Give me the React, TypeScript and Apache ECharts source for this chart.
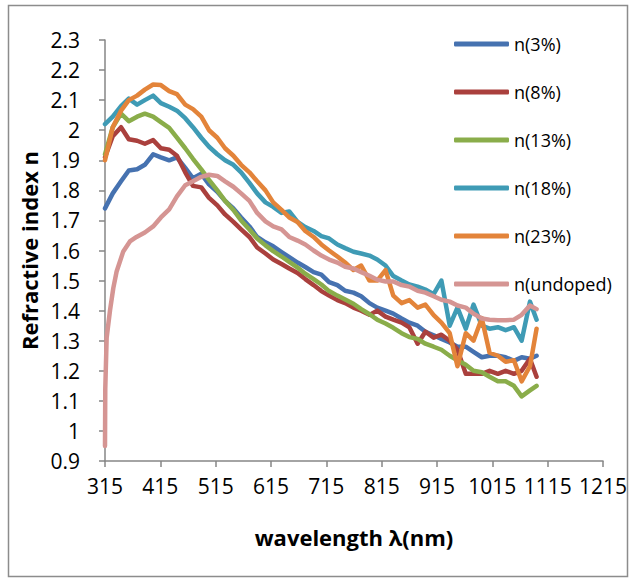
import React, { useEffect, useRef } from "react";
import * as echarts from "echarts";

// wavelength grid (nm) shared by the doped samples
const wavelengths = [315, 329, 344, 358, 373, 387, 402, 416, 431, 445, 460, 474, 489, 503, 518, 532, 547, 561, 576, 590, 605, 619, 634, 648, 663, 677, 692, 706, 720, 735, 749, 764, 778, 793, 807, 822, 836, 851, 865, 880, 894, 909, 923, 938, 952, 967, 981, 996, 1010, 1025, 1039, 1054, 1068, 1083, 1095];

const n3 = [1.74, 1.79, 1.83, 1.866, 1.87, 1.885, 1.92, 1.91, 1.9, 1.91, 1.875, 1.84, 1.855, 1.82, 1.795, 1.765, 1.74, 1.71, 1.68, 1.645, 1.627, 1.614, 1.595, 1.578, 1.56, 1.545, 1.528, 1.52, 1.495, 1.485, 1.466, 1.46, 1.448, 1.425, 1.41, 1.4, 1.39, 1.374, 1.36, 1.35, 1.33, 1.318, 1.306, 1.294, 1.28, 1.28, 1.263, 1.245, 1.25, 1.25, 1.245, 1.233, 1.245, 1.24, 1.25];

const n8 = [1.91, 1.98, 2.01, 1.97, 1.965, 1.955, 1.967, 1.94, 1.935, 1.915, 1.86, 1.815, 1.81, 1.775, 1.75, 1.72, 1.695, 1.67, 1.645, 1.61, 1.59, 1.57, 1.555, 1.54, 1.525, 1.505, 1.485, 1.465, 1.45, 1.435, 1.425, 1.41, 1.4, 1.386, 1.4, 1.38, 1.37, 1.36, 1.345, 1.29, 1.33, 1.31, 1.32, 1.3, 1.27, 1.19, 1.19, 1.19, 1.2, 1.19, 1.2, 1.19, 1.2, 1.24, 1.18];

const n13 = [1.92, 2.01, 2.055, 2.03, 2.045, 2.055, 2.045, 2.027, 2.008, 1.975, 1.94, 1.905, 1.87, 1.835, 1.8, 1.765, 1.735, 1.7, 1.67, 1.64, 1.617, 1.598, 1.58, 1.562, 1.543, 1.523, 1.505, 1.487, 1.465, 1.45, 1.437, 1.423, 1.405, 1.388, 1.37, 1.357, 1.343, 1.325, 1.312, 1.306, 1.29, 1.28, 1.27, 1.25, 1.235, 1.22, 1.2, 1.195, 1.18, 1.165, 1.165, 1.15, 1.115, 1.135, 1.15];

const n18 = [2.02, 2.045, 2.08, 2.105, 2.085, 2.1, 2.115, 2.09, 2.078, 2.065, 2.04, 2.01, 1.975, 1.945, 1.92, 1.9, 1.885, 1.86, 1.825, 1.79, 1.76, 1.745, 1.725, 1.73, 1.695, 1.678, 1.665, 1.648, 1.64, 1.62, 1.608, 1.596, 1.59, 1.583, 1.57, 1.55, 1.515, 1.5, 1.487, 1.48, 1.47, 1.455, 1.5, 1.35, 1.41, 1.34, 1.42, 1.35, 1.34, 1.345, 1.335, 1.345, 1.3, 1.43, 1.37];

const n23 = [1.9, 2.01, 2.065, 2.1, 2.115, 2.135, 2.152, 2.15, 2.13, 2.12, 2.085, 2.07, 2.045, 2.0, 1.975, 1.94, 1.915, 1.885, 1.86, 1.83, 1.8, 1.76, 1.735, 1.71, 1.695, 1.665, 1.645, 1.62, 1.6, 1.58, 1.56, 1.535, 1.55, 1.5, 1.5, 1.535, 1.45, 1.425, 1.435, 1.41, 1.42, 1.385, 1.36, 1.325, 1.215, 1.325, 1.3, 1.375, 1.26, 1.25, 1.23, 1.235, 1.165, 1.215, 1.34];

// undoped sample has a denser start
const undopedWavelengths = [315, 315.5, 318, 324, 330, 336, 348, 360, 372, 387, 402, 416, 431, 445, 460, 474, 489, 503, 518, 532, 547, 561, 576, 590, 605, 619, 634, 648, 663, 677, 692, 706, 720, 735, 749, 764, 778, 793, 807, 822, 836, 851, 865, 880, 894, 909, 923, 938, 952, 967, 981, 996, 1010, 1025, 1039, 1054, 1068, 1083, 1095];
const nUndoped = [0.95, 1.14, 1.31, 1.4, 1.475, 1.53, 1.597, 1.63, 1.645, 1.66, 1.68, 1.71, 1.737, 1.78, 1.817, 1.83, 1.845, 1.852, 1.848, 1.83, 1.812, 1.79, 1.765, 1.725, 1.697, 1.68, 1.67, 1.645, 1.633, 1.62, 1.6, 1.583, 1.57, 1.56, 1.546, 1.54, 1.528, 1.516, 1.503, 1.497, 1.497, 1.485, 1.48, 1.466, 1.46, 1.448, 1.436, 1.43, 1.417, 1.41, 1.39, 1.374, 1.37, 1.368, 1.368, 1.37, 1.386, 1.417, 1.405];

const seriesNames = ["n(3%)", "n(8%)", "n(13%)", "n(18%)", "n(23%)", "n(undoped)"];
const seriesColors = ["#4672B0", "#AA403D", "#8AAD4A", "#3F9BB5", "#E3843A", "#D59593"];

const xStart = 315;
const xTickLabels = ["315", "415", "515", "615", "715", "815", "915", "1015", "1115", "1215"];

const FONT = "'Open Sans', 'Noto Sans', sans-serif";

export default function App() {
  const ref = useRef<HTMLDivElement>(null);

  useEffect(() => {
    if (!ref.current) return;
    const chart = echarts.init(ref.current, undefined, { renderer: "svg" });

    const pairs = (xs: number[], ys: number[]) => xs.map((x, i) => [x - xStart, ys[i]]);
    const dataSets = [
      pairs(wavelengths, n3),
      pairs(wavelengths, n8),
      pairs(wavelengths, n13),
      pairs(wavelengths, n18),
      pairs(wavelengths, n23),
      pairs(undopedWavelengths, nUndoped),
    ];

    chart.setOption({
      animation: false,
      backgroundColor: "#ffffff",
      grid: { left: 105, right: 25, top: 40, bottom: 120, containLabel: false },
      graphic: [
        {
          type: "rect",
          shape: { x: 8.5, y: 5.5, width: 619, height: 571 },
          style: { fill: "none", stroke: "#8c8c8c", lineWidth: 1.5 },
          silent: true,
        },
      ],
      legend: {
        orient: "vertical",
        left: 454,
        top: 34,
        padding: 0,
        itemWidth: 55,
        itemHeight: 5,
        itemGap: 28,
        icon: "roundRect",
        textStyle: { fontFamily: FONT, fontSize: 18, color: "#000", lineHeight: 20 },
        data: seriesNames,
      },
      xAxis: {
        type: "value",
        min: 0,
        max: 900,
        interval: 100,
        name: "wavelength λ(nm)",
        nameLocation: "middle",
        nameGap: 65,
        nameTextStyle: { fontFamily: FONT, fontSize: 22, fontWeight: "bold", color: "#000" },
        axisLine: { show: true, lineStyle: { color: "#868686", width: 1.5 } },
        axisTick: { show: true, length: 6, lineStyle: { color: "#868686", width: 1.5 } },
        splitLine: { show: false },
        axisLabel: {
          fontFamily: FONT,
          fontSize: 21,
          color: "#000",
          margin: 14,
          hideOverlap: false,
          formatter: (v: number) => xTickLabels[Math.round(v / 100)] ?? String(v + xStart),
        },
      },
      yAxis: {
        type: "value",
        min: 0.9,
        max: 2.3,
        interval: 0.1,
        name: "Refractive index n",
        nameLocation: "middle",
        nameGap: 60,
        nameRotate: 90,
        nameTextStyle: { fontFamily: FONT, fontSize: 22, fontWeight: "bold", color: "#000" },
        axisLine: { show: true, lineStyle: { color: "#868686", width: 1.5 } },
        axisTick: { show: true, length: 6, lineStyle: { color: "#868686", width: 1.5 } },
        splitLine: { show: false },
        axisLabel: {
          fontFamily: FONT,
          fontSize: 21,
          color: "#000",
          margin: 25,
          formatter: (v: number) => String(Math.round(v * 10) / 10),
        },
      },
      series: seriesNames.map((name, i) => ({
        name,
        type: "line",
        data: dataSets[i],
        showSymbol: false,
        symbol: "none",
        color: seriesColors[i],
        lineStyle: { width: 4.5, color: seriesColors[i], cap: "round", join: "round" },
        z: 2 + i,
      })),
    });

    return () => chart.dispose();
  }, []);

  return (
    <div
      ref={ref}
      style={{ position: "absolute", left: 0, top: 0, width: 630, height: 581, background: "#fff" }}
    />
  );
}
